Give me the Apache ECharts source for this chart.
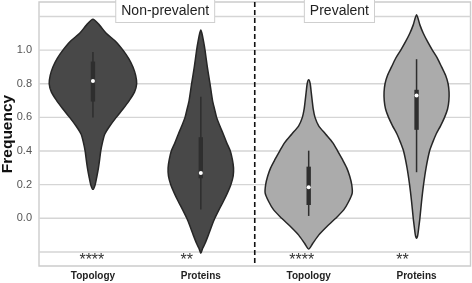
<!DOCTYPE html>
<html><head><meta charset="utf-8">
<script src="https://cdn.jsdelivr.net/npm/echarts@6/dist/echarts.min.js"></script>
<style>html,body{margin:0;padding:0;background:#fff}#c{width:472px;height:283px}</style>
</head><body><div id="c"></div>
<script>
const categories = ['Topology', 'Proteins', 'Topology', 'Proteins'];
const groupNames = ['Non-prevalent', 'Prevalent'];
const groupLabelX = [0.67, 2.285];
const yLabelTicks = [0, 0.2, 0.4, 0.6, 0.8, 1.0];
const yGridTicks = [-0.2, 0, 0.2, 0.4, 0.6, 0.8, 1.0, 1.2];
const stars = ['****', '**', '****', '**'];
const starOffset = [-0.01, -0.13, -0.065, -0.13];

// violin outlines: [value, relative half-width]
const topoNP = [[0.172,0],[0.2,0.05],[0.25,0.09],[0.3,0.125],[0.35,0.152],[0.4,0.176],[0.45,0.215],[0.5,0.267],[0.55,0.385],[0.6,0.527],[0.65,0.679],[0.7,0.821],[0.75,0.939],[0.8,0.989],[0.85,0.966],[0.9,0.905],[0.95,0.81],[1.0,0.679],[1.05,0.52],[1.1,0.30],[1.15,0.143],[1.183,0]];
const protNP = [[-0.208,0],[-0.18,0.04],[-0.15,0.095],[-0.1,0.17],[-0.05,0.24],[0,0.317],[0.05,0.41],[0.1,0.509],[0.15,0.6],[0.2,0.679],[0.25,0.731],[0.3,0.74],[0.35,0.713],[0.4,0.667],[0.45,0.584],[0.5,0.509],[0.55,0.43],[0.6,0.357],[0.65,0.31],[0.7,0.265],[0.8,0.208],[0.9,0.147],[1.0,0.095],[1.05,0.063],[1.1,0.025],[1.12,0]];
const topoP = [[-0.183,0],[-0.15,0.09],[-0.1,0.226],[-0.05,0.407],[0,0.611],[0.05,0.792],[0.1,0.905],[0.15,0.984],[0.2,0.973],[0.25,0.928],[0.3,0.86],[0.35,0.762],[0.4,0.656],[0.45,0.543],[0.5,0.385],[0.55,0.226],[0.6,0.143],[0.65,0.102],[0.7,0.079],[0.75,0.057],[0.8,0.034],[0.823,0]];
const protP = [[-0.119,0],[-0.1,0.027],[-0.05,0.052],[0,0.075],[0.1,0.113],[0.2,0.158],[0.3,0.215],[0.4,0.294],[0.45,0.362],[0.5,0.441],[0.55,0.543],[0.6,0.633],[0.65,0.701],[0.7,0.731],[0.75,0.735],[0.8,0.713],[0.85,0.656],[0.9,0.566],[0.95,0.475],[1.0,0.357],[1.05,0.249],[1.1,0.152],[1.15,0.075],[1.21,0]];
const violins = [topoNP, protNP, topoP, protP];

// box stats: [whisker low, q1, median, q3, whisker high]
const boxStats = [
  [0.599, 0.694, 0.817, 0.932, 0.988],
  [0.053, 0.238, 0.269, 0.482, 0.723],
  [0.014, 0.079, 0.184, 0.307, 0.402],
  [0.274, 0.526, 0.730, 0.764, 0.946]
];
const fills = ['#484848', '#484848', '#ababab', '#ababab'];
const starY = -0.252;

const FONT = '"Liberation Sans", Arial, sans-serif';
const chart = echarts.init(document.getElementById('c'), null, {renderer: 'canvas'});

function violinItem(params, api) {
  const i = params.dataIndex;
  const prof = violins[i];
  const band = api.size([1, 0])[0];
  const half = band * 0.41;
  const right = [], left = [];
  prof.forEach(p => {
    const pt = api.coord([i, p[0]]);
    right.push([pt[0] + p[1] * half, pt[1]]);
    left.push([pt[0] - p[1] * half, pt[1]]);
  });
  const pts = right.concat(left.slice(1, -1).reverse());
  const b = boxStats[i];
  const c0 = api.coord([i, b[0]]), c1 = api.coord([i, b[1]]), c2 = api.coord([i, b[2]]), c3 = api.coord([i, b[3]]), c4 = api.coord([i, b[4]]);
  const x = c0[0];
  return {
    type: 'group',
    children: [
      {type: 'polygon', shape: {points: pts, smooth: 0.25}, style: {fill: fills[i], stroke: '#262626', lineWidth: 1.5}},
      {type: 'line', shape: {x1: x, y1: c0[1], x2: x, y2: c4[1]}, style: {stroke: '#2e2e2e', lineWidth: 1.5}},
      {type: 'rect', shape: {x: x - 2.2, y: c3[1], width: 4.4, height: c1[1] - c3[1]}, style: {fill: '#2e2e2e'}},
      {type: 'circle', shape: {cx: x, cy: c2[1], r: 2}, style: {fill: '#ffffff'}}
    ]
  };
}

function gridItem(params, api) {
  const cs = params.coordSys;
  const y = api.coord([0, yGridTicks[params.dataIndex]])[1];
  return {type: 'line', shape: {x1: cs.x, y1: y, x2: cs.x + cs.width, y2: y}, style: {stroke: '#d5d5d5', lineWidth: 1.4}};
}

function annoItem(params, api) {
  const cs = params.coordSys;
  const band = api.size([1, 0])[0];
  const children = [];
  const xs = api.coord([1, 0])[0] + band / 2;
  children.push({type: 'line', shape: {x1: xs, y1: cs.y, x2: xs, y2: cs.y + cs.height}, style: {stroke: '#111', lineWidth: 1.6, lineDash: [5, 3]}});
  stars.forEach((s, i) => {
    const p = api.coord([i, starY]);
    children.push({type: 'text', x: p[0] + starOffset[i] * band, y: p[1], style: {text: s, fill: '#333', font: '16px ' + FONT, align: 'center', verticalAlign: 'middle'}});
  });
  groupNames.forEach((g, k) => {
    const x0 = api.coord([0, 0])[0] + groupLabelX[k] * band;
    children.push({type: 'text', x: x0, y: cs.y - 2, style: {text: g, fill: '#222', font: '14px ' + FONT, align: 'center', verticalAlign: 'top', backgroundColor: '#fff', borderColor: '#cfcfcf', borderWidth: 1, padding: [4, 5, 4, 5]}});
  });
  return {type: 'group', children: children};
}

chart.setOption({
  animation: false,
  grid: {left: 39, right: 1.5, top: 2, bottom: 17, outerBoundsMode: 'none', containLabel: false, show: true, borderColor: '#cccccc', borderWidth: 1.4, backgroundColor: 'transparent'},
  xAxis: {
    type: 'category', data: categories, boundaryGap: true,
    axisLine: {show: false}, axisTick: {show: false}, splitLine: {show: false},
    axisLabel: {color: '#222', fontWeight: 'bold', fontSize: 10, fontFamily: FONT, margin: 5}
  },
  yAxis: {
    type: 'value', min: -0.2836, max: 1.286,
    name: 'Frequency', nameLocation: 'middle', nameGap: 23, nameMoveOverlap: false,
    nameTextStyle: {color: '#111', fontWeight: 'bold', fontSize: 15.5, fontFamily: FONT},
    axisLine: {show: false}, axisTick: {show: false}, splitLine: {show: false},
    axisLabel: {customValues: yLabelTicks, color: '#555', fontSize: 11, fontFamily: FONT, margin: 7, formatter: v => v.toFixed(1)}
  },
  series: [
    {type: 'custom', renderItem: gridItem, data: yGridTicks.map((v, i) => [0, v]), silent: true, z: 1, clip: false},
    {type: 'custom', renderItem: violinItem, data: categories.map((c, i) => [i, 0]), z: 3},
    {type: 'custom', renderItem: annoItem, data: [[0, 0]], silent: true, z: 5, clip: false}
  ]
});
</script></body></html>
